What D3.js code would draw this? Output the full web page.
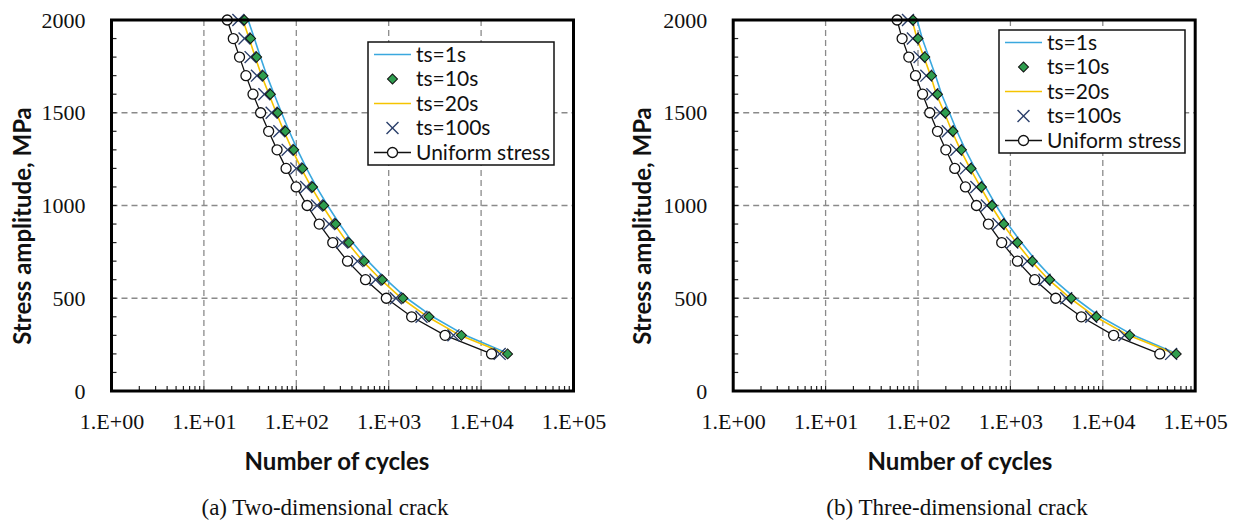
<!DOCTYPE html>
<html>
<head>
<meta charset="utf-8">
<script src="https://cdnjs.cloudflare.com/ajax/libs/d3/7.8.5/d3.min.js"></script>
<style>
    body { margin: 0; background: #fff; }
    svg text { fill: #111; }
</style>
</head>
<body>
<svg id="chart" width="1238" height="520"></svg>
<script>
// stress levels, MPa (same for every series)
var stress = [2000, 1900, 1800, 1700, 1600, 1500, 1400, 1300, 1200, 1100,
              1000, 900, 800, 700, 600, 500, 400, 300, 200];

var seriesNames = ["ts=1s", "ts=10s", "ts=20s", "ts=100s", "Uniform stress"];
var xTickLabels = ["1.E+00", "1.E+01", "1.E+02", "1.E+03", "1.E+04", "1.E+05"];
var yTickValues = [0, 500, 1000, 1500, 2000];

// (a) two-dimensional crack, number of cycles
var crack2dTs1 = [30.1, 35.2, 40.9, 48.0, 57.6, 69.2, 83.8, 103, 129, 165,
                  218, 294, 407, 597, 938, 1569, 3000, 6740, 20100];
var crack2dTs10 = [27.4, 32.0, 37.2, 43.6, 52.4, 62.9, 76.2, 93.7, 117, 150,
                   198, 267, 370, 543, 853, 1426, 2729, 6124, 19330];
var crack2dTs20 = [26.4, 30.9, 35.9, 42.1, 50.6, 60.7, 73.5, 90.4, 113, 145,
                   191, 258, 357, 524, 823, 1376, 2634, 5910, 18700];
var crack2dTs100 = [23.6, 27.5, 32.0, 37.5, 45.1, 54.1, 65.5, 80.6, 100, 128,
                    168, 227, 314, 459, 721, 1197, 2265, 5020, 15900];
var crack2dUniform = [17.9, 20.8, 24.3, 28.5, 34.0, 41.1, 50.2, 61.9, 77.5, 99.5,
                      131, 177, 248, 358, 561, 942, 1771, 4074, 12970];

// (b) three-dimensional crack, number of cycles
var crack3dTs1 = [98, 111, 131, 155, 180, 219, 264, 326, 414, 537,
                  700, 936, 1316, 1911, 2940, 5040, 9400, 21500, 64000];
var crack3dTs10 = [88.5, 100, 118.5, 140, 162.5, 198, 239, 295, 375, 486,
                   633, 847, 1191, 1729, 2660, 4564, 8511, 19500, 62370];
var crack3dTs20 = [86.3, 97.5, 116, 137, 158, 193, 233, 288, 366, 474,
                   617, 826, 1161, 1686, 2594, 4450, 8300, 19000, 61000];
var crack3dTs100 = [77.9, 88, 104, 123, 143, 174, 210, 260, 330, 428,
                    557, 745, 1048, 1522, 2341, 4016, 7490, 17160, 54900];
var crack3dUniform = [59.4, 67.3, 79.5, 94, 112, 134, 162.5, 200, 250, 326,
                      429, 578, 805, 1191, 1832, 3090, 5856, 13090, 41400];

var Fatigue = (function (d3) {
    var svg,
        plotTop = 20,
        plotBottom = 391,
        plotWidth = 462,
        serif = "'Liberation Serif', 'Times New Roman', serif",
        sans = "Lato, 'Open Sans', sans-serif",
        styles = [
            {line: "#3aa8de", marker: null},
            {line: null, marker: "diamond"},
            {line: "#f5c400", marker: null},
            {line: null, marker: "cross"},
            {line: "#111", marker: "circle"}
        ];

    function initialize(id) {
        svg = d3.select("#" + id);
    }

    function draw(panel) {
        var x = d3.scaleLog().domain([1, 1e5]).range([panel.left, panel.left + plotWidth]),
            y = d3.scaleLinear().domain([0, 2000]).range([plotBottom, plotTop]),
            g = svg.append("g");

        var decades = x.ticks().filter(function (d) { return Math.abs(Math.log10(d) % 1) < 1e-9; });

        // grid
        g.append("g").selectAll("line.vgrid")
            .data(decades.slice(1, -1))
            .enter().append("line")
            .attr("x1", function (d) { return x(d); })
            .attr("x2", function (d) { return x(d); })
            .attr("y1", plotTop).attr("y2", plotBottom)
            .attr("stroke", "#8a8a8a").attr("stroke-width", 1.3)
            .attr("stroke-dasharray", "6,4");

        g.append("g").selectAll("line.hgrid")
            .data(yTickValues.slice(1, -1))
            .enter().append("line")
            .attr("x1", panel.left).attr("x2", panel.left + plotWidth)
            .attr("y1", function (d) { return y(d); })
            .attr("y2", function (d) { return y(d); })
            .attr("stroke", "#8a8a8a").attr("stroke-width", 1.3)
            .attr("stroke-dasharray", "6,4");

        // minor ticks, inside the frame
        g.append("g").selectAll("line")
            .data(x.ticks())
            .enter().append("line")
            .attr("x1", function (d) { return x(d); })
            .attr("x2", function (d) { return x(d); })
            .attr("y1", plotBottom).attr("y2", plotBottom - 5)
            .attr("stroke", "#222").attr("stroke-width", 1.2);

        g.append("g").selectAll("line")
            .data(y.ticks(20))
            .enter().append("line")
            .attr("x1", panel.left).attr("x2", panel.left + 5)
            .attr("y1", function (d) { return y(d); })
            .attr("y2", function (d) { return y(d); })
            .attr("stroke", "#222").attr("stroke-width", 1.2);

        // axes labels
        var xAxis = g.append("g")
            .attr("transform", "translate(0," + plotBottom + ")")
            .call(d3.axisBottom(x).tickValues(decades)
                .tickFormat(function (d, i) { return xTickLabels[i]; })
                .tickSize(0).tickPadding(22));
        var yAxis = g.append("g")
            .attr("transform", "translate(" + panel.left + ",0)")
            .call(d3.axisLeft(y).tickValues(yTickValues).tickFormat(d3.format("d"))
                .tickSize(0).tickPadding(26));
        [xAxis, yAxis].forEach(function (a) {
            a.select(".domain").remove();
            a.selectAll("text").attr("font-family", serif).attr("font-size", 22).attr("fill", "#111");
        });

        // series
        var line = d3.line()
            .x(function (d) { return x(d[0]); })
            .y(function (d) { return y(d[1]); });

        var series = panel.data.map(function (arr, i) {
            return {style: styles[i], points: arr.map(function (n, j) { return [n, stress[j]]; })};
        });

        series.forEach(function (s) {
            if (s.style.line) {
                g.append("path").datum(s.points)
                    .attr("d", line)
                    .attr("fill", "none")
                    .attr("stroke", s.style.line)
                    .attr("stroke-width", s.style.marker ? 1.3 : 1.6);
            }
        });
        [3, 1, 4].forEach(function (i) {
            _markers(g, series[i].points, series[i].style.marker, x, y);
        });

        // frame
        g.append("rect")
            .attr("x", panel.left).attr("y", plotTop)
            .attr("width", plotWidth).attr("height", plotBottom - plotTop)
            .attr("fill", "none").attr("stroke", "#000").attr("stroke-width", 3);

        _legend(g, panel.legendX, panel.legendY);

        // titles
        g.append("text")
            .attr("transform", "translate(" + panel.yTitleX + ",226) rotate(-90)")
            .attr("text-anchor", "middle").attr("dy", "0.35em")
            .attr("font-family", sans).attr("font-weight", "bold").attr("font-size", 24)
            .text("Stress amplitude, MPa");
        g.append("text")
            .attr("x", panel.titleX).attr("y", 462)
            .attr("text-anchor", "middle").attr("dy", "0.35em")
            .attr("font-family", sans).attr("font-weight", "bold").attr("font-size", 24)
            .text("Number of cycles");
        g.append("text")
            .attr("x", panel.captionX).attr("y", 507)
            .attr("text-anchor", "middle").attr("dy", "0.33em")
            .attr("font-family", serif).attr("font-size", 23)
            .text(panel.caption);
    }

    function _markers(g, points, kind, x, y) {
        var sel = g.append("g").selectAll("g")
            .data(points)
            .enter().append("g")
            .attr("transform", function (d) { return "translate(" + x(d[0]) + "," + y(d[1]) + ")"; });
        _marker(sel, kind);
    }

    function _marker(sel, kind) {
        if (kind === "diamond") {
            sel.append("path")
                .attr("d", d3.symbol(d3.symbolSquare, 50)())
                .attr("transform", "rotate(45)")
                .attr("fill", "#2f9e4f").attr("stroke", "#111").attr("stroke-width", 1);
        } else if (kind === "cross") {
            sel.append("path")
                .attr("d", d3.symbol(d3.symbolTimes, 95)())
                .attr("fill", "none").attr("stroke", "#2b3f6b").attr("stroke-width", 1.4);
        } else if (kind === "circle") {
            sel.append("circle")
                .attr("r", 5)
                .attr("fill", "#fff").attr("stroke", "#111").attr("stroke-width", 1.3);
        }
    }

    function _legend(g, lx, ly) {
        var rowHeight = 24.5;
        var box = g.append("g").attr("transform", "translate(" + lx + "," + ly + ")");
        box.append("rect")
            .attr("width", 186).attr("height", 123)
            .attr("fill", "#fff").attr("stroke", "#111").attr("stroke-width", 1.5);

        var rows = box.selectAll("g.row")
            .data(seriesNames)
            .enter().append("g")
            .attr("class", "row")
            .attr("transform", function (d, i) { return "translate(0," + (12.5 + i * rowHeight) + ")"; });

        rows.each(function (d, i) {
            var row = d3.select(this), st = styles[i];
            if (st.line) {
                row.append("line")
                    .attr("x1", 6).attr("x2", 43)
                    .attr("stroke", st.line).attr("stroke-width", st.marker ? 1.3 : 1.6);
            }
            if (st.marker) {
                _marker(row.append("g").attr("transform", "translate(24.5,0)"), st.marker);
            }
        });

        rows.append("text")
            .attr("x", 48).attr("dy", "0.35em")
            .attr("font-family", sans).attr("font-size", 21)
            .text(function (d) { return d; });
    }

    return {
        initialize: initialize,
        draw: draw
    };
})(d3);

Fatigue.initialize("chart");
Fatigue.draw({
    left: 111.5, legendX: 368, legendY: 42, yTitleX: 23, titleX: 337, captionX: 325,
    caption: "(a) Two-dimensional crack",
    data: [crack2dTs1, crack2dTs10, crack2dTs20, crack2dTs100, crack2dUniform]
});
Fatigue.draw({
    left: 733.2, legendX: 999, legendY: 30, yTitleX: 643, titleX: 960, captionX: 957,
    caption: "(b) Three-dimensional crack",
    data: [crack3dTs1, crack3dTs10, crack3dTs20, crack3dTs100, crack3dUniform]
});
</script>
</body>
</html>
